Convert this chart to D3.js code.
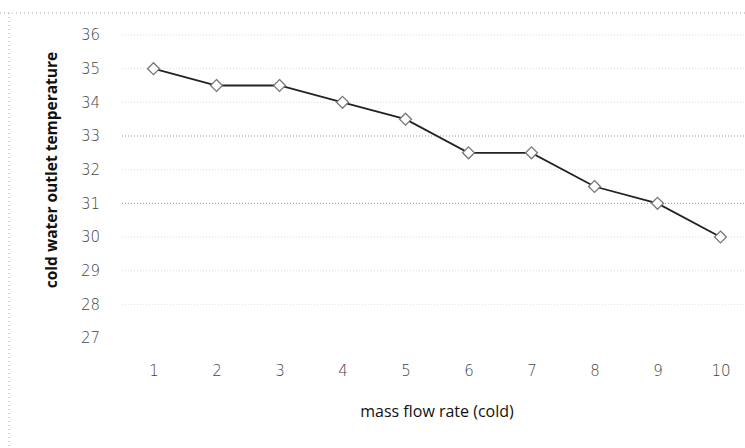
<!DOCTYPE html>
<html>
<head>
<meta charset="utf-8">
<script src="https://cdn.jsdelivr.net/npm/d3@7"></script>
<style>
  body { margin: 0; background: #fff; }
  svg { display: block; }
</style>
</head>
<body>
<div id="chart"></div>
<script>
// mass flow rate (cold) vs cold water outlet temperature
var flowRates = [1, 2, 3, 4, 5, 6, 7, 8, 9, 10];
var outletTemps = [35, 34.5, 34.5, 34, 33.5, 32.5, 32.5, 31.5, 31, 30];
var yTicks = [27, 28, 29, 30, 31, 32, 33, 34, 35, 36];

var W = 745, H = 448;
var margin = {top: 35, right: -7, bottom: 110, left: 122};
var width = W - margin.left - margin.right,
    height = H - margin.top - margin.bottom;

var svg = d3.select("#chart")
  .append("svg")
    .attr("width", W)
    .attr("height", H);

// faint dotted chart border (scan leftovers)
svg.append("line")
  .attr("x1", 0).attr("x2", W).attr("y1", 13).attr("y2", 13)
  .attr("stroke", "#aaa").attr("stroke-width", 1)
  .attr("stroke-dasharray", "1,3");
svg.append("line")
  .attr("x1", 9).attr("x2", 9).attr("y1", 13).attr("y2", H)
  .attr("stroke", "#aaa").attr("stroke-width", 1)
  .attr("stroke-dasharray", "1,3");

var g = svg.append("g")
  .attr("transform", "translate(" + margin.left + "," + margin.top + ")");

var x = d3.scalePoint()
  .domain(flowRates)
  .range([0, width])
  .padding(0.5);

var y = d3.scaleLinear()
  .domain([36, 27])
  .range([0, 303]);

// gridlines
g.selectAll(".grid")
  .data(yTicks.filter(function(d) { return d !== 27; }))
  .enter()
  .append("line")
    .attr("class", "grid")
    .attr("x1", 0).attr("x2", width)
    .attr("y1", function(d) { return y(d); })
    .attr("y2", function(d) { return y(d); })
    .attr("stroke", function(d) { return (d === 33 || d === 31) ? "#999" : "#ddd"; })
    .attr("stroke-width", 1)
    .attr("stroke-dasharray", "1,2");

// y axis labels
var yAxis = g.append("g")
  .call(d3.axisLeft(y).tickValues(yTicks).tickSize(0).tickPadding(22));
yAxis.select(".domain").remove();
yAxis.selectAll("text")
  .attr("font-family", "DejaVu Sans, sans-serif")
  .attr("font-size", 15)
  .attr("font-weight", 300)
  .attr("fill", "#444");

// x axis labels
var xAxis = g.append("g")
  .attr("transform", "translate(0," + 324 + ")")
  .call(d3.axisBottom(x).tickSize(0).tickPadding(6));
xAxis.select(".domain").remove();
xAxis.selectAll("text")
  .attr("font-family", "DejaVu Sans, sans-serif")
  .attr("font-size", 15)
  .attr("font-weight", 300)
  .attr("fill", "#444");

// line
var line = d3.line()
  .x(function(d, i) { return x(flowRates[i]); })
  .y(function(d) { return y(d); });

g.append("path")
  .datum(outletTemps)
  .attr("fill", "none")
  .attr("stroke", "#222")
  .attr("stroke-width", 1.8)
  .attr("d", line);

// diamond markers
g.selectAll(".pt")
  .data(outletTemps)
  .enter()
  .append("path")
    .attr("class", "pt")
    .attr("d", d3.symbol().type(d3.symbolDiamond2).size(90))
    .attr("transform", function(d, i) {
      return "translate(" + x(flowRates[i]) + "," + y(d) + ")";
    })
    .attr("fill", "#fff")
    .attr("stroke", "#777")
    .attr("stroke-width", 1.3);

// axis titles
svg.append("text")
  .attr("x", 437)
  .attr("y", 417)
  .attr("text-anchor", "middle")
  .attr("font-family", "Open Sans, sans-serif")
  .attr("font-size", 16)
  .attr("fill", "#111")
  .text("mass flow rate (cold)");

svg.append("text")
  .attr("transform", "translate(57,170) rotate(-90)")
  .attr("text-anchor", "middle")
  .attr("font-family", "Open Sans, sans-serif")
  .attr("font-size", 15.5)
  .attr("font-weight", "bold")
  .attr("fill", "#111")
  .text("cold water outlet temperature");
</script>
</body>
</html>
